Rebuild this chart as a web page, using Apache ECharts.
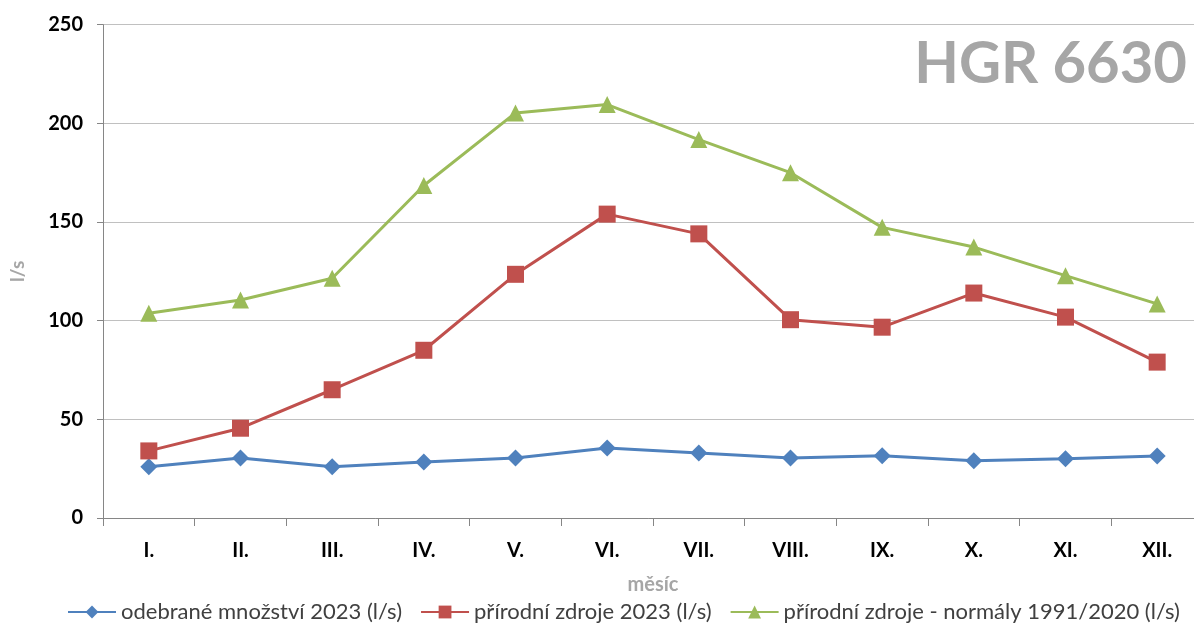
<!DOCTYPE html>
<html>
<head>
<meta charset="utf-8">
<script src="https://cdn.jsdelivr.net/npm/echarts@6/dist/echarts.min.js"></script>
<style>
  html, body { margin: 0; padding: 0; background: #fff; }
  #chart { width: 1194px; height: 626px; }
</style>
</head>
<body>
<div id="chart"></div>
<script>
// Months (Roman numerals)
const months = ['I.', 'II.', 'III.', 'IV.', 'V.', 'VI.', 'VII.', 'VIII.', 'IX.', 'X.', 'XI.', 'XII.'];

// Monthly values in l/s
const odebraneMnozstvi2023 = [26, 30.4, 26, 28.4, 30.4, 35.5, 33, 30.4, 31.6, 29, 30, 31.4];
const prirodniZdroje2023 = [34, 45.5, 65, 85, 123.5, 154, 144, 100.5, 96.7, 114, 101.8, 79];
const prirodniZdrojeNormaly = [103.8, 110.5, 121.5, 168.5, 205.3, 209.5, 191.8, 175, 147.3, 137.3, 122.8, 108.5];

const seriesNames = [
  'odebrané množství 2023 (l/s)',
  'přírodní zdroje 2023 (l/s)',
  'přírodní zdroje - normály 1991/2020 (l/s)'
];

const yTicks = { min: 0, max: 250, interval: 50 };

const FONT = 'Lato';
const chart = echarts.init(document.getElementById('chart'), null, { renderer: 'canvas' });

function lineSeries(name, data, color, symbol, size) {
  return {
    name: name,
    type: 'line',
    data: data,
    symbol: symbol,
    symbolSize: size,
    showSymbol: true,
    lineStyle: { color: color, width: 3 },
    itemStyle: { color: color },
    emphasis: { disabled: true },
    animation: false
  };
}

chart.setOption({
  backgroundColor: '#ffffff',
  animation: false,
  title: {
    text: 'HGR 6630',
    right: 2,
    top: 30,
    textStyle: { fontFamily: FONT, fontWeight: 'bold', fontSize: 58, color: '#a6a6a6' }
  },
  // plot area runs slightly past the right edge of the canvas
  grid: { left: 103, width: 1100, top: 24.7, bottom: 108, containLabel: false, outerBoundsMode: 'none' },
  legend: {
    left: 62,
    top: 596,
    itemWidth: 48,
    itemHeight: 16,
    itemGap: 18,
    textStyle: { fontFamily: FONT, fontSize: 22, color: '#404040' },
    data: seriesNames
  },
  xAxis: {
    type: 'category',
    data: months,
    boundaryGap: true,
    name: 'měsíc',
    nameLocation: 'middle',
    nameGap: 57,
    nameTextStyle: { fontFamily: FONT, fontWeight: 'bold', fontSize: 20, color: '#a6a6a6' },
    axisLine: { lineStyle: { color: '#868686', width: 1 } },
    axisTick: { show: true, length: 8, lineStyle: { color: '#868686' } },
    axisLabel: { fontFamily: FONT, fontWeight: 'bold', fontSize: 20, color: '#000', margin: 23 },
    splitLine: { show: false }
  },
  yAxis: {
    type: 'value',
    min: yTicks.min,
    max: yTicks.max,
    interval: yTicks.interval,
    name: 'l/s',
    nameLocation: 'middle',
    nameGap: 76,
    nameRotate: 90,
    nameTextStyle: { fontFamily: FONT, fontWeight: 'bold', fontSize: 19, color: '#a6a6a6' },
    axisLine: { show: true, lineStyle: { color: '#868686', width: 1 } },
    axisTick: { show: true, length: 6, lineStyle: { color: '#868686' } },
    axisLabel: { fontFamily: FONT, fontWeight: 'bold', fontSize: 20, color: '#000', margin: 20 },
    splitLine: { show: true, lineStyle: { color: '#c0c0c0', width: 1 } }
  },
  series: [
    lineSeries(seriesNames[0], odebraneMnozstvi2023, '#4f81bd', 'diamond', 17),
    lineSeries(seriesNames[1], prirodniZdroje2023, '#c0504d', 'rect', 17),
    lineSeries(seriesNames[2], prirodniZdrojeNormaly, '#9bbb59', 'triangle', 17)
  ]
});
</script>
</body>
</html>
